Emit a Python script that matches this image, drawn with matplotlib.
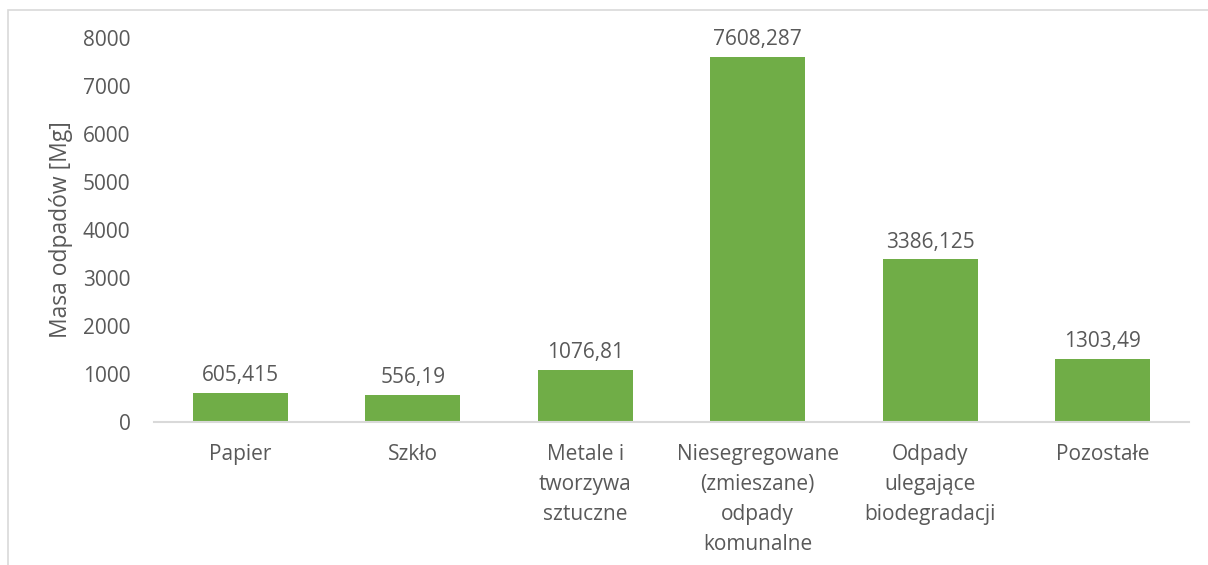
import numpy as np
import matplotlib
matplotlib.use('Agg')
import matplotlib.pyplot as plt
from matplotlib.patches import Rectangle

categories = ['Papier', 'Szkło', 'Metale i\ntworzywa\nsztuczne',
              'Niesegregowane\n(zmieszane)\nodpady\nkomunalne',
              'Odpady\nulegające\nbiodegradacji', 'Pozostałe']
values = [605.415, 556.19, 1076.81, 7608.287, 3386.125, 1303.49]
value_labels = ['605,415', '556,19', '1076,81', '7608,287', '3386,125', '1303,49']
y_ticks = [0, 1000, 2000, 3000, 4000, 5000, 6000, 7000, 8000]

GREEN = '#70ad47'
TEXT = '#595959'
plt.rcParams['font.family'] = ['Open Sans', 'DejaVu Sans']

fig = plt.figure(figsize=(12.08, 5.65), dpi=100)
# outer chart frame
fig.patches.append(Rectangle((8 / 1208, -0.1), 1.2, 1 - 10 / 565 + 0.1,
                             transform=fig.transFigure, fill=False,
                             edgecolor='#d9d9d9', linewidth=1.2))

ax = fig.add_axes([154 / 1208, 1 - 422 / 565, (1189 - 154) / 1208, (422 - 38) / 565])
x = np.arange(len(categories))
ax.bar(x, values, width=0.55, color=GREEN, zorder=2)
ax.set_xlim(-0.5, len(categories) - 0.5)
ax.set_ylim(0, 8000)

for xi, v, lab in zip(x, values, value_labels):
    ax.annotate(lab, (xi, v), xytext=(0, 5), textcoords='offset points',
                ha='center', va='bottom', fontsize=15, color=TEXT)

ax.set_xticks(x)
ax.set_xticklabels(categories, fontsize=15, color=TEXT, linespacing=1.55, va='top')
ax.set_yticks(y_ticks)
ax.set_yticklabels([str(t) for t in y_ticks], fontsize=15, color=TEXT)
ax.tick_params(axis='both', length=0)
ax.tick_params(axis='x', pad=16)
ax.tick_params(axis='y', pad=17)
for s in ['top', 'right', 'left']:
    ax.spines[s].set_visible(False)
ax.spines['bottom'].set_color('#d9d9d9')
ax.spines['bottom'].set_linewidth(1.5)
ax.set_ylabel('Masa odpadów [Mg]', fontsize=16.5, color=TEXT, labelpad=7)

fig.savefig('out.png', dpi=100)
